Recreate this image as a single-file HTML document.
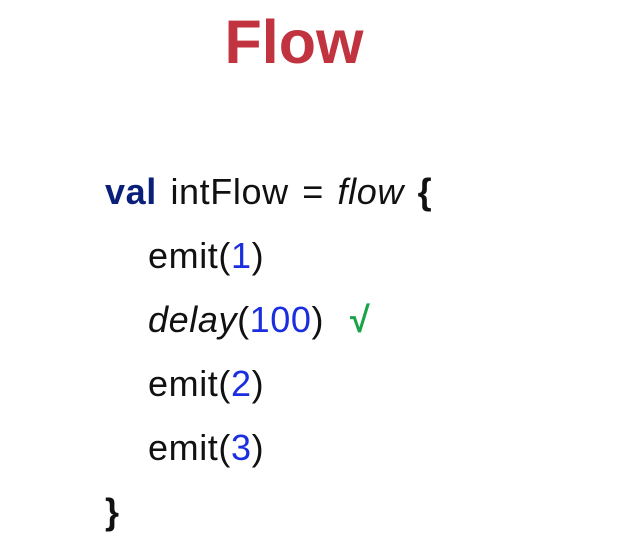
<!DOCTYPE html>
<html><head><meta charset="utf-8"><style>
body{margin:0;width:642px;height:551px;background:#fff;position:relative;overflow:hidden;font-family:"Liberation Sans",sans-serif}
.t{position:absolute;left:0;width:588px;text-align:center;top:2px;font-size:61px;font-weight:bold;color:#c0333f;line-height:80px}
.l{position:absolute;font-size:36px;line-height:64px;color:#111;white-space:pre;letter-spacing:0.6px}
.k{color:#0a1f7a;font-weight:bold}
.n{color:#1a2ee0}
.i{font-style:italic}
.g{color:#1aa34a;font-weight:bold}
</style></head><body>
<div class="t">Flow</div>
<div class="l" style="left:105px;top:160px;word-spacing:3px"><span class="k">val</span> intFlow = <span class="i">flow</span> <b>{</b></div>
<div class="l" style="left:148px;top:224px">emit(<span class="n">1</span>)</div>
<div class="l" style="left:148px;top:288px"><span class="i">delay</span>(<span class="n">100</span>)</div>
<div class="l g" style="left:350px;top:288px">√</div>
<div class="l" style="left:148px;top:352px">emit(<span class="n">2</span>)</div>
<div class="l" style="left:148px;top:416px">emit(<span class="n">3</span>)</div>
<div class="l" style="left:105px;top:480px"><b>}</b></div>
</body></html>
